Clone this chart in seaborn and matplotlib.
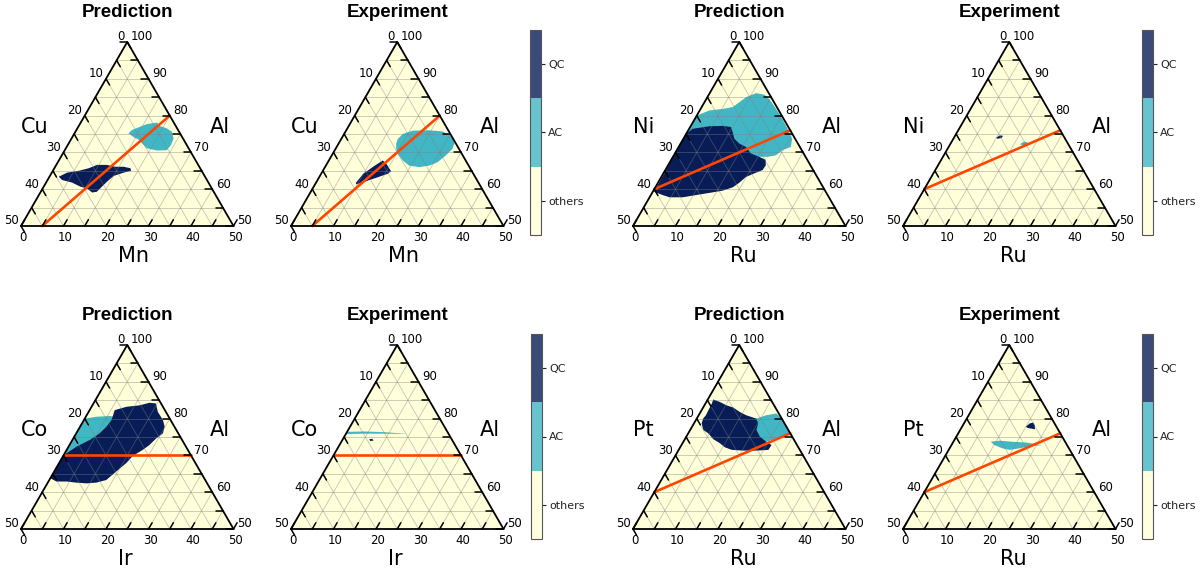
import numpy as np
import matplotlib
matplotlib.use("Agg")
import matplotlib.pyplot as plt
import seaborn as sns
from matplotlib.colors import ListedColormap, BoundaryNorm, to_rgba
from matplotlib.cm import ScalarMappable

sns.set_theme(style="white")
plt.rcParams['font.family'] = ['DejaVu Sans']
plt.rcParams['text.color'] = 'black'

# ----------------------------------------------------
# data: every point is (bottom element %, Al %)
# ----------------------------------------------------
titles = ["Prediction", "Experiment"] * 4
left_names = ["Cu", "Cu", "Ni", "Ni", "Co", "Co", "Pt", "Pt"]
bottom_names = ["Mn", "Mn", "Ru", "Ru", "Ir", "Ir", "Ru", "Ru"]
right_name = "Al"

phase_names = ["others", "AC", "QC"]
phase_colors = ["#ffffd9", "#41b6c4", "#081d58"]

tick_values = [0, 5, 10, 15, 20, 25, 30, 35, 40, 45, 50]
label_values = [0, 10, 20, 30, 40, 50]

line_cumn = [(5, 50), (20, 80)]
line_niru = [(0, 60), (24, 76)]
line_coir = [(0, 70), (30, 70)]
line_ptru = [(0, 60), (24, 76)]

cumn_pred_ac = [(12.7, 75.2), (13.1, 76.1), (14.6, 77.0), (15.8, 77.7), (18.0, 78.1),
                (19.0, 77.2), (21.1, 76.5), (22.7, 75.6), (24.0, 73.8), (24.3, 72.0),
                (24.0, 70.6), (21.8, 70.5), (19.1, 71.1), (17.2, 72.5), (15.9, 73.5),
                (14.5, 74.1)]
cumn_pred_qc = [(2.2, 63.4), (3.6, 64.5), (6.1, 65.0), (8.1, 65.7), (9.6, 66.6),
                (11.9, 66.6), (14.1, 66.1), (16.1, 66.1), (17.9, 65.7), (18.4, 65.0),
                (16.9, 64.5), (15.0, 63.6), (14.2, 62.0), (13.7, 60.7), (13.2, 59.3),
                (12.2, 59.1), (10.4, 60.2), (8.6, 60.7), (6.1, 61.8), (3.4, 62.5)]
cumn_exp_ac = [(13.6, 72.3), (13.3, 73.6), (13.8, 75.0), (15.7, 75.9), (19.5, 76.0),
               (22.8, 75.7), (25.3, 74.5), (27.2, 72.7), (27.5, 70.9), (26.8, 69.1),
               (25.8, 67.3), (24.3, 66.4), (22.2, 66.0), (19.6, 66.4), (17.4, 67.8),
               (15.3, 69.6), (14.3, 70.9)]
cumn_exp_qc = [(9.4, 61.7), (9.9, 64.2), (11.5, 66.4), (12.7, 67.8), (14.0, 66.9),
               (16.1, 64.9), (15.7, 64.2), (13.5, 63.1), (11.0, 61.9), (9.7, 61.3)]

niru_pred_ac = [(0.0, 80.0), (2.3, 81.4), (5.2, 81.8), (7.3, 82.3), (8.2, 83.6),
                (9.1, 85.0), (10.9, 86.1), (13.0, 85.7), (14.8, 84.5), (16.8, 82.7),
                (19.7, 80.0), (22.7, 76.9), (25.6, 73.7), (26.4, 71.5), (24.9, 70.6),
                (24.0, 69.2), (22.3, 68.8), (20.3, 68.8), (19.6, 67.0), (9.2, 70.6),
                (0.0, 73.3)]
niru_pred_qc = [(0.0, 75.0), (0.8, 76.4), (4.4, 77.1), (7.5, 77.2), (9.6, 76.9),
                (10.7, 75.5), (12.0, 73.7), (13.8, 72.4), (15.8, 71.5), (17.9, 69.7),
                (20.3, 68.8), (22.2, 68.0), (23.0, 66.5), (22.9, 65.2), (21.4, 64.3),
                (19.9, 63.3), (19.1, 61.7), (18.2, 60.5), (16.3, 59.6), (13.5, 59.0),
                (10.6, 58.4), (7.8, 57.8), (4.7, 57.8), (2.8, 58.4), (0.3, 59.3)]
niru_exp_ac = [(16.4, 72.2), (17.0, 72.9), (18.0, 72.7), (18.3, 72.2), (17.4, 71.9)]
niru_exp_qc = [(9.9, 74.0), (10.5, 74.6), (11.3, 74.5), (11.2, 73.9), (10.4, 73.7)]

coir_pred_ac = [(0.0, 80.0), (2.5, 80.5), (5.5, 80.7), (6.8, 80.5), (9.0, 76.9),
                (7.3, 72.4), (0.0, 70.0)]
coir_pred_qc = [(0.0, 70.0), (1.9, 72.4), (4.1, 74.2), (5.5, 76.0), (6.2, 77.8),
                (6.5, 79.6), (5.9, 82.3), (8.2, 83.2), (11.1, 83.6), (13.1, 84.3),
                (14.7, 84.1), (16.3, 81.8), (18.6, 79.6), (19.9, 77.8), (20.4, 76.0),
                (19.5, 74.6), (18.8, 72.8), (17.9, 71.5), (16.4, 69.9), (15.8, 67.9),
                (14.6, 65.6), (13.4, 63.3), (11.4, 62.6), (9.2, 62.4), (6.7, 62.6),
                (4.3, 62.9), (1.9, 62.9), (0.0, 63.8)]
coir_exp_ac = [(0.0, 76.4), (4.0, 76.5), (9.0, 76.3), (14.6, 75.8), (9.0, 75.9),
               (4.0, 75.9), (0.0, 75.8)]
coir_exp_qc = [(6.2, 74.4), (6.9, 74.5), (7.4, 74.0), (6.7, 73.9)]

ptru_pred_ac = [(14.0, 80.0), (15.9, 80.9), (18.0, 81.4), (19.4, 80.5), (24.0, 76.0),
                (23.5, 75.1), (21.4, 74.6), (19.5, 73.7), (15.0, 75.1), (11.9, 79.6)]
ptru_pred_qc = [(1.3, 85.2), (3.2, 84.5), (5.2, 83.6), (7.1, 83.0), (9.2, 81.8),
                (11.2, 80.9), (14.0, 80.0), (15.1, 78.7), (15.6, 76.9), (17.3, 75.1),
                (19.5, 73.7), (21.2, 72.8), (21.1, 71.5), (18.4, 71.3), (15.3, 71.3),
                (12.5, 71.5), (10.5, 72.2), (8.8, 73.3), (6.7, 74.4), (4.7, 76.0),
                (3.1, 76.9), (1.8, 78.7), (1.5, 80.0), (1.7, 80.9), (1.6, 82.3),
                (1.5, 84.1)]
ptru_exp_ac = [(8.8, 73.7), (10.7, 74.0), (13.9, 73.7), (17.2, 73.5), (21.2, 72.8),
               (18.5, 72.4), (16.4, 71.9), (14.3, 71.5), (12.5, 71.9), (10.1, 72.8)]
ptru_exp_qc = [(15.0, 77.8), (15.5, 78.7), (16.2, 78.9), (16.9, 78.2), (17.5, 77.1),
               (16.4, 77.3), (15.5, 77.5)]

panel_ac = [cumn_pred_ac, cumn_exp_ac, niru_pred_ac, niru_exp_ac,
            coir_pred_ac, coir_exp_ac, ptru_pred_ac, ptru_exp_ac]
panel_qc = [cumn_pred_qc, cumn_exp_qc, niru_pred_qc, niru_exp_qc,
            coir_pred_qc, coir_exp_qc, ptru_pred_qc, ptru_exp_qc]
panel_line = [line_cumn, line_cumn, line_niru, line_niru,
              line_coir, line_coir, line_ptru, line_ptru]

# ----------------------------------------------------
# ternary helpers
# ----------------------------------------------------
R3 = np.sqrt(3) / 2


def to_xy(pts):
    b = np.array([p[0] for p in pts], dtype=float)
    a = np.array([p[1] for p in pts], dtype=float)
    return b + (a - 50) / 2, (a - 50) * R3


W, H = 1200, 570
S = 4.25
px0s = [21, 291, 633, 903]
py0s = [226, 529]
XMIN, XMAX, YMIN, YMAX = -6, 57, -10, 52

fig = plt.figure(figsize=(12, 5.7), dpi=100)


def draw_panel(k):
    row, col = divmod(k, 4)
    px0, py0 = px0s[col], py0s[row]
    ax = fig.add_axes([(px0 + XMIN * S) / W, 1 - (py0 - YMIN * S) / H,
                       (XMAX - XMIN) * S / W, (YMAX - YMIN) * S / H])
    ax.set_xlim(XMIN, XMAX)
    ax.set_ylim(YMIN, YMAX)
    ax.axis('off')

    corners = [(0, 50), (50, 50), (0, 100)]
    cx, cy = to_xy(corners)
    ax.fill(cx, cy, color=phase_colors[0], zorder=0, lw=0)

    # phase regions
    x, y = to_xy(panel_ac[k])
    ax.fill(x, y, color=phase_colors[1], lw=0, zorder=1)
    x, y = to_xy(panel_qc[k])
    ax.fill(x, y, color=phase_colors[2], lw=0, zorder=1.5)

    # grid
    for v in tick_values[1:-1]:
        for seg in ([(v, 50), (v, 100 - v)],
                    [(0, 50 + v), (50 - v, 50 + v)],
                    [(0, 100 - v), (50 - v, 50)]):
            gx, gy = to_xy(seg)
            ax.plot(gx, gy, color='grey', lw=0.6, alpha=0.45, zorder=2)

    # composition line
    lx, ly = to_xy(panel_line[k])
    sns.lineplot(x=lx, y=ly, ax=ax, color='orangered', lw=1.9,
                 sort=False, estimator=None, zorder=3)

    # border
    ax.plot(np.append(cx, cx[0]), np.append(cy, cy[0]), color='black',
            lw=1.3, zorder=4, solid_joinstyle='miter')

    # ticks
    L = 1.7
    for v in tick_values:
        bx, by = to_xy([(v, 50)])
        ax.plot([bx[0], bx[0] + 0.5 * L], [by[0], by[0] + R3 * L], color='black', lw=1.1, zorder=4)
        lx_, ly_ = to_xy([(0, 100 - v)])
        ax.plot([lx_[0], lx_[0] + 0.5 * L], [ly_[0], ly_[0] - R3 * L], color='black', lw=1.1, zorder=4)
        rx, ry = to_xy([(50 - v, 50 + v)])
        ax.plot([rx[0], rx[0] - L], [ry[0], ry[0]], color='black', lw=1.1, zorder=4)

    for v in label_values:
        bx, by = to_xy([(v, 50)])
        ax.text(bx[0] + 0.4, by[0] - 2.6, str(v), ha='center', va='center', fontsize=8.5)
        lx_, ly_ = to_xy([(0, 100 - v)])
        ax.text(lx_[0] - 0.6, ly_[0] + 1.2, str(v), ha='right', va='center', fontsize=8.5)
        rx, ry = to_xy([(50 - v, 50 + v)])
        ax.text(rx[0] + 0.8, ry[0] + 1.2, str(50 + v), ha='left', va='center', fontsize=8.5)

    ax.text(0, 23.4, left_names[k], ha='left', va='center', fontsize=15)
    ax.text(44.4, 23.4, right_name, ha='left', va='center', fontsize=15)
    ax.text(22.8, -7.0, bottom_names[k], ha='left', va='center', fontsize=15)
    ax.text(25, 50.2, titles[k], ha='center', va='center', fontsize=13.5,
            fontweight='bold', family=['Liberation Sans', 'DejaVu Sans'])


for k in range(8):
    draw_panel(k)

# ----------------------------------------------------
# colorbars
# ----------------------------------------------------
cmap = ListedColormap([to_rgba(c, 0.8) for c in phase_colors])
norm = BoundaryNorm([0, 1, 2, 3], 3)
cbar_boxes = [(530, 30, 235), (1142, 30, 235), (531, 334, 539), (1142, 334, 539)]
for x0, top, bot in cbar_boxes:
    cax = fig.add_axes([x0 / W, 1 - bot / H, 11 / W, (bot - top) / H])
    cb = fig.colorbar(ScalarMappable(norm=norm, cmap=cmap), cax=cax, ticks=[0.5, 1.5, 2.5])
    cb.set_ticklabels(phase_names)
    cb.ax.minorticks_off()
    cb.ax.tick_params(which='both', left=False, right=True, length=3, width=0.8,
                      labelsize=8, pad=2, colors='#222222')
    cb.outline.set_edgecolor('#555555')
    cb.outline.set_linewidth(0.8)

fig.savefig("out.png", dpi=100)
